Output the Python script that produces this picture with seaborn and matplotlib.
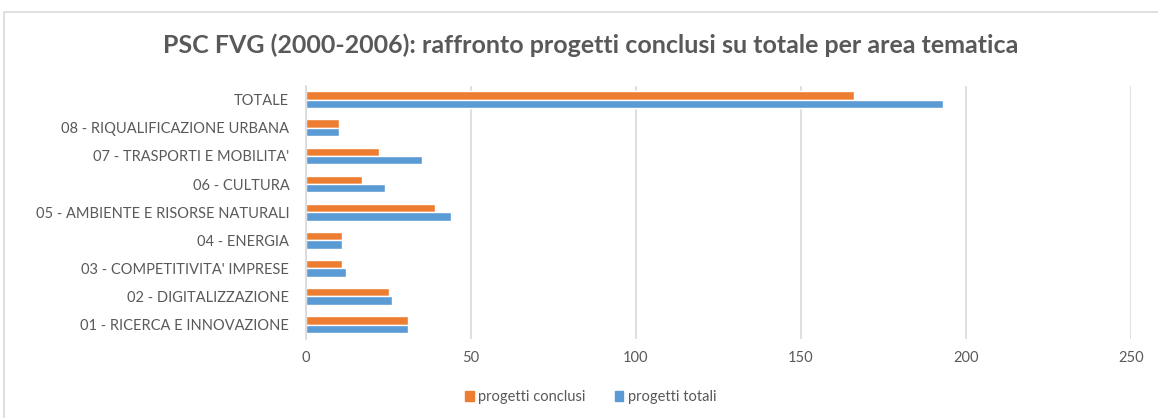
import numpy as np
import pandas as pd
import matplotlib
matplotlib.use("Agg")
import matplotlib.pyplot as plt
from matplotlib.patches import Rectangle
import seaborn as sns

categories = [
    "TOTALE",
    "08 - RIQUALIFICAZIONE URBANA",
    "07 - TRASPORTI E MOBILITA'",
    "06 - CULTURA",
    "05 - AMBIENTE E RISORSE NATURALI",
    "04 - ENERGIA",
    "03 - COMPETITIVITA' IMPRESE",
    "02 - DIGITALIZZAZIONE",
    "01 - RICERCA E INNOVAZIONE",
]
progetti_conclusi = [166, 10, 22, 17, 39, 11, 11, 25, 31]
progetti_totali = [193, 10, 35, 24, 44, 11, 12, 26, 31]
series_names = ["progetti conclusi", "progetti totali"]
x_ticks = [0, 50, 100, 150, 200, 250]

df = pd.DataFrame({
    "area": categories * 2,
    "valore": progetti_conclusi + progetti_totali,
    "serie": [series_names[0]] * len(categories) + [series_names[1]] * len(categories),
})

sns.set_theme(style="white")
plt.rcParams["font.family"] = ["Lato", "DejaVu Sans"]
text_col = "#595959"

fig = plt.figure(figsize=(11.58, 4.18), dpi=100)
ax = fig.add_axes([306 / 1158, 0.19, (1131 - 306) / 1158, 0.605])

sns.barplot(data=df, y="area", x="valore", hue="serie", order=categories,
            hue_order=series_names, palette=["#ED7D31", "#5B9BD5"],
            width=0.6, saturation=1, orient="h", ax=ax, legend=False)

ax.set_xlim(0, 250)
ax.set_xticks(x_ticks)
ax.set_xticklabels([str(t) for t in x_ticks])
ax.grid(axis="x", color="#D9D9D9", linewidth=1.2)
ax.set_axisbelow(True)
for s in ["top", "right", "bottom"]:
    ax.spines[s].set_visible(False)
ax.spines["left"].set_color("#D9D9D9")
ax.spines["left"].set_linewidth(1.2)
ax.set_xlabel("")
ax.set_ylabel("")
ax.tick_params(axis="both", length=0, colors=text_col, labelsize=10.5)
ax.tick_params(axis="x", pad=9)
ax.tick_params(axis="y", pad=12)

fig.suptitle("PSC FVG (2000-2006): raffronto progetti conclusi su totale per area tematica",
             x=0.51, y=0.92, fontsize=18, fontweight="bold", color=text_col)

handles = [plt.Rectangle((0, 0), 1, 1, color=c) for c in ["#ED7D31", "#5B9BD5"]]
fig.legend(handles, series_names, loc="center", bbox_to_anchor=(0.51, 0.05), ncol=2,
           frameon=False, fontsize=10.5, handlelength=0.6, handleheight=0.6,
           handletextpad=0.3, columnspacing=2.0, labelcolor=text_col)

fig.patches.append(Rectangle((4 / 1158, -0.05), 1.0, 1.05 - 12 / 418, transform=fig.transFigure,
                             fill=False, edgecolor="#D9D9D9", linewidth=1.2))

fig.savefig("out.png", dpi=100, facecolor="white")
